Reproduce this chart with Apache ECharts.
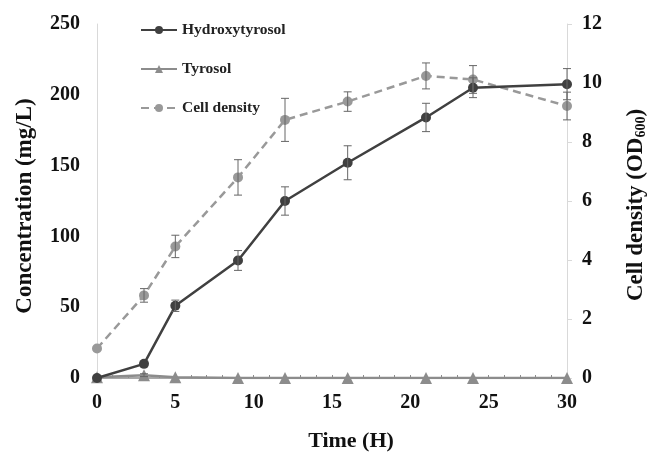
<!DOCTYPE html>
<html>
<head>
<meta charset="utf-8">
<script src="https://cdn.jsdelivr.net/npm/echarts@6/dist/echarts.min.js"></script>
<style>
  html, body { margin: 0; padding: 0; background: #fff; }
  #chart { width: 648px; height: 452px; }
</style>
</head>
<body>
<div id="chart"></div>
<script>
var times = [0, 3, 5, 9, 12, 16, 21, 24, 30];
var hydroxy = [0, 10, 51, 83, 125, 152, 184, 205, 207.5];
var hydroxyErr = [0, 0, 4, 7, 10, 12, 10, 7, 11];
var tyrosol = [0.5, 2, 0.5, 0, 0, 0, 0, 0, 0];
var tyrosolErr = [0, 1, 0, 0, 0, 0, 0, 0, 0];
var cellDensity = [1.0, 2.8, 4.46, 6.8, 8.75, 9.37, 10.24, 10.12, 9.22];
var cellErr = [0, 0.23, 0.38, 0.6, 0.73, 0.33, 0.44, 0.47, 0.47];

var FONT = 'Liberation Serif';
var dark = '#404040', mid = '#8c8c8c', light = '#999999';

function pairs(vals) {
    return times.map(function (t, i) { return [t, vals[i]]; });
}
function errData(vals, errs) {
    return times.map(function (t, i) { return [t, vals[i] - errs[i], vals[i] + errs[i]]; });
}

// vertical error bar with caps
function errRender(params, api) {
    var lo = api.coord([api.value(0), api.value(1)]);
    var hi = api.coord([api.value(0), api.value(2)]);
    if (Math.abs(hi[1] - lo[1]) < 1) return null;
    var w = 4;
    var st = { stroke: '#666', lineWidth: 1 };
    return {
        type: 'group',
        children: [
            { type: 'line', shape: { x1: lo[0], y1: lo[1], x2: hi[0], y2: hi[1] }, style: st },
            { type: 'line', shape: { x1: lo[0] - w, y1: lo[1], x2: lo[0] + w, y2: lo[1] }, style: st },
            { type: 'line', shape: { x1: hi[0] - w, y1: hi[1], x2: hi[0] + w, y2: hi[1] }, style: st }
        ]
    };
}

var myChart = echarts.init(document.getElementById('chart'));

var option = {
    backgroundColor: '#fff',
    animation: false,
    textStyle: { fontFamily: FONT },
    grid: { left: 97, right: 81, top: 24, bottom: 74, outerBoundsMode: 'none' },
    legend: {
        orient: 'vertical',
        left: 135,
        top: 17,
        itemGap: 23,
        itemWidth: 36,
        itemHeight: 10,
        data: ['Hydroxytyrosol', 'Tyrosol', 'Cell density'],
        textStyle: { fontFamily: FONT, fontWeight: 'bold', fontSize: 15.5, color: '#222' }
    },
    xAxis: {
        type: 'value',
        min: 0, max: 30, interval: 5,
        name: 'Time (H)',
        nameLocation: 'middle',
        nameGap: 52,
        nameTextStyle: { fontFamily: FONT, fontWeight: 'bold', fontSize: 22, color: '#111', padding: [0, 0, 0, 38] },
        axisLine: { lineStyle: { color: '#8c8c8c', width: 1.5 } },
        axisTick: { show: true, inside: true, length: 3, lineStyle: { color: '#8c8c8c' } },
        minorTick: { show: true, splitNumber: 5, length: 3, lineStyle: { color: '#8c8c8c' } },
        splitLine: { show: false },
        axisLabel: { fontFamily: FONT, fontWeight: 'bold', fontSize: 20, color: '#111', margin: 15 }
    },
    yAxis: [{
        type: 'value',
        min: 0, max: 250, interval: 50,
        name: 'Concentration (mg/L)',
        nameLocation: 'middle',
        nameGap: 60,
        nameTextStyle: { fontFamily: FONT, fontWeight: 'bold', fontSize: 23, color: '#111', padding: [0, 10, 0, 0] },
        axisLine: { show: true, lineStyle: { color: '#d9d9d9' } },
        axisTick: { show: false },
        splitLine: { show: false },
        axisLabel: { fontFamily: FONT, fontWeight: 'bold', fontSize: 20, color: '#111', margin: 17 }
    }, {
        type: 'value',
        position: 'right',
        min: 0, max: 12, interval: 2,
        name: 'Cell density (OD{sub|600})',
        nameLocation: 'middle',
        nameGap: 58,
        nameRotate: 90,
        nameTextStyle: {
            fontFamily: FONT, fontWeight: 'bold', fontSize: 23, color: '#111', padding: [0, 8, 0, 0],
            rich: { sub: { fontFamily: FONT, fontWeight: 'bold', fontSize: 14, color: '#111', verticalAlign: 'bottom', padding: [9, 0, 0, 0] } }
        },
        axisLine: { show: true, lineStyle: { color: '#d9d9d9' } },
        axisTick: { show: true, length: 5, lineStyle: { color: '#d9d9d9' } },
        splitLine: { show: false },
        axisLabel: { fontFamily: FONT, fontWeight: 'bold', fontSize: 20, color: '#111', margin: 15 }
    }],
    series: [{
        name: 'Hydroxytyrosol',
        type: 'line',
        yAxisIndex: 0,
        data: pairs(hydroxy),
        symbol: 'circle', symbolSize: 10,
        lineStyle: { color: dark, width: 2.5 },
        itemStyle: { color: dark },
        z: 4
    }, {
        name: 'Tyrosol',
        type: 'line',
        yAxisIndex: 0,
        data: pairs(tyrosol),
        symbol: 'triangle', symbolSize: 12,
        lineStyle: { color: mid, width: 2.5 },
        itemStyle: { color: mid },
        z: 3
    }, {
        name: 'Cell density',
        type: 'line',
        yAxisIndex: 1,
        data: pairs(cellDensity),
        symbol: 'circle', symbolSize: 10,
        lineStyle: { color: light, width: 2.5, type: [8, 5] },
        itemStyle: { color: light },
        z: 2
    }, {
        type: 'custom', yAxisIndex: 0, renderItem: errRender,
        data: errData(hydroxy, hydroxyErr), z: 5, silent: true
    }, {
        type: 'custom', yAxisIndex: 0, renderItem: errRender,
        data: errData(tyrosol, tyrosolErr), z: 5, silent: true
    }, {
        type: 'custom', yAxisIndex: 1, renderItem: errRender,
        data: errData(cellDensity, cellErr), z: 5, silent: true
    }]
};

myChart.setOption(option);
</script>
</body>
</html>
